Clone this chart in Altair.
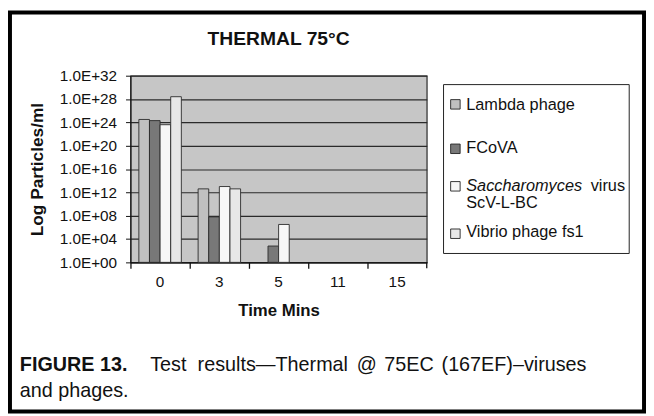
import altair as alt
import pandas as pd

# ---- data (log10 particles/ml; None = no bar) ----
times = ["0", "3", "5", "11", "15"]
series = ["Lambda phage", "FCoVA", "Saccharomyces virus ScV-L-BC", "Vibrio phage fs1"]
colors = ["#c0c0c0", "#787878", "#f7f7f7", "#e7e7e7"]
lambda_vals = [24.5, 12.6, None, None, None]
fcova_vals = [24.3, 7.8, 2.8, None, None]
sacch_vals = [23.6, 13.0, 6.5, None, None]
vibrio_vals = [28.4, 12.6, None, None, None]
y_ticks = [0, 4, 8, 12, 16, 20, 24, 28, 32]

rows = []
for name, vals in zip(series, [lambda_vals, fcova_vals, sacch_vals, vibrio_vals]):
    for t, v in zip(times, vals):
        if v is not None:
            rows.append({"time": t, "series": name, "logv": v})
df = pd.DataFrame(rows)

FONT = "Liberation Sans"
W, H = 300, 189
PL, PT = 124, 66
TOTAL_W, TOTAL_H = 646, 408

bars = alt.Chart(df).mark_bar(stroke="#2a2a2a", strokeWidth=0.9).encode(
    x=alt.X(
        "time:N", sort=times,
        scale=alt.Scale(domain=times, paddingInner=0, paddingOuter=0),
        axis=alt.Axis(
            title="Time Mins", bandPosition=0, labelAngle=0, labelOverlap=False,
            ticks=True, tickSize=6, labelPadding=6, titlePadding=13, domainColor="#111",
            tickColor="#111", tickWidth=1.3, labelFontSize=15.5, titleFontSize=17,
            titleFontWeight="bold", labelColor="#111", titleColor="#111",
        ),
    ),
    xOffset=alt.XOffset(
        "series:N", sort=series,
        scale=alt.Scale(domain=series, paddingOuter=0.79, paddingInner=0),
    ),
    y=alt.Y(
        "logv:Q",
        scale=alt.Scale(domain=[0, 32], nice=False, zero=True),
        axis=alt.Axis(
            title="Log Particles/ml", values=y_ticks,
            labelExpr="'1.0E+' + (datum.value < 10 ? '0' + datum.value : datum.value)",
            grid=True, gridColor="#2a2a2a", gridWidth=1.2, gridOpacity=1,
            tickSize=5, labelPadding=9, titlePadding=13, domainColor="#111",
            tickColor="#111", labelFontSize=15.5, titleFontSize=17.5,
            titleFontWeight="bold", labelColor="#111", titleColor="#111",
        ),
    ),
    color=alt.Color("series:N", scale=alt.Scale(domain=series, range=colors), legend=None),
)

one = pd.DataFrame({"k": [0]})

# extra tick at the right end of the category axis
end_tick = alt.Chart(one).mark_rule(color="#111", strokeWidth=1.3).encode(
    x=alt.value(W), y=alt.value(H), y2=alt.value(H + 6)
)

# chart title
title = alt.Chart(pd.DataFrame({"t": ["THERMAL 75\u00b0C"]})).mark_text(
    font=FONT, fontSize=19.5, fontWeight="bold", color="#111", align="center", baseline="alphabetic"
).encode(x=alt.value(W / 2), y=alt.value(-31), text="t:N")

# legend box
LX = 4
legend_box = alt.Chart(one).mark_rect(filled=False, stroke="#222", strokeWidth=1).encode(
    x=alt.value(313 + LX), x2=alt.value(501 + LX), y=alt.value(9), y2=alt.value(180)
)

legend_layers = [legend_box]
sq_y = [29, 74, 112, 160]
for i, name in enumerate(series):
    legend_layers.append(
        alt.Chart(one).mark_square(size=92, stroke="#222", strokeWidth=0.9, opacity=1).encode(
            x=alt.value(325 + LX), y=alt.value(sq_y[i]), color=alt.value(colors[i])
        )
    )

legend_texts = [
    ("Lambda phage", 336, 34.3, "normal"),
    ("FCoVA", 336, 78.7, "normal"),
    ("Saccharomyces", 336, 116.5, "italic"),
    ("virus", 462, 116.5, "normal"),
    ("ScV-L-BC", 336, 134.3, "normal"),
    ("Vibrio phage fs1", 336, 163.7, "normal"),
]
for txt, lx, ly, style in legend_texts:
    legend_layers.append(
        alt.Chart(pd.DataFrame({"t": [txt]})).mark_text(
            font=FONT, fontSize=16.5, fontStyle=style, color="#111", align="left", baseline="alphabetic"
        ).encode(x=alt.value(lx + LX), y=alt.value(ly), text="t:N")
    )

# caption (justified first line, words placed individually)
CX0 = -112
captions = [
    ("FIGURE 13.", CX0, 299, "bold"),
    ("Test", CX0 + 132, 299, "normal"),
    ("results\u2014Thermal", CX0 + 180, 299, "normal"),
    ("@", CX0 + 341, 299, "normal"),
    ("75EC", CX0 + 369, 299, "normal"),
    ("(167EF)\u2013viruses", CX0 + 427, 299, "normal"),
    ("and phages.", CX0, 325, "normal"),
]
cap_layers = []
for txt, cx, cy, wt in captions:
    cap_layers.append(
        alt.Chart(pd.DataFrame({"t": [txt]})).mark_text(
            font=FONT, fontSize=20, fontWeight=wt, color="#111", align="left", baseline="alphabetic"
        ).encode(x=alt.value(cx), y=alt.value(cy), text="t:N")
    )

# outer frame of the figure
frame = alt.Chart(one).mark_rect(filled=False, stroke="#000", strokeWidth=4).encode(
    x=alt.value(-PL + 2), x2=alt.value(TOTAL_W - PL - 2),
    y=alt.value(-PT + 2), y2=alt.value(TOTAL_H - PT - 2),
)

chart = alt.layer(bars, end_tick, title, *legend_layers, *cap_layers, frame).properties(
    width=W, height=H,
    autosize=alt.AutoSizeParams(type="none"),
    padding={"left": PL, "top": PT, "right": TOTAL_W - PL - W, "bottom": TOTAL_H - PT - H},
    background="white",
).configure(font=FONT).configure_view(
    fill="#c6c6c6", stroke="#2a2a2a", strokeWidth=1.2
).configure_axis(labelFont=FONT, titleFont=FONT)

chart.save("out.html", embed_options={"renderer": "svg", "actions": False})
